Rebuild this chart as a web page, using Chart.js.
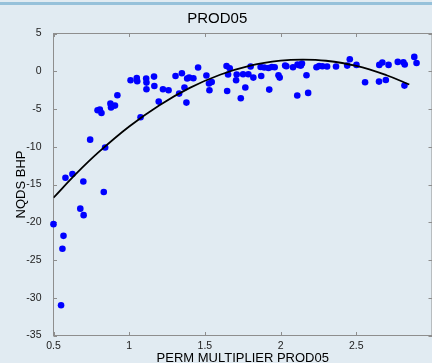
<!DOCTYPE html>
<html>
<head>
<meta charset="utf-8">
<script src="https://cdn.jsdelivr.net/npm/chart.js@4.4.1/dist/chart.umd.min.js"></script>
<style>
html, body { margin: 0; padding: 0; overflow: hidden; background: #e1ebf2; }
canvas { display: block; }
</style>
</head>
<body>
<canvas id="c" width="436" height="372"></canvas>
<script>
// scatter: perm multiplier vs NQDS BHP
const permX = [
    0.50, 0.55, 0.559, 0.566, 0.579, 0.625, 0.677, 0.697, 0.699, 0.742,
    0.832, 0.841, 0.791, 0.806, 0.817, 0.876, 0.880, 0.906, 0.922, 1.009,
    1.050, 1.053, 1.112, 1.114, 1.114, 1.075, 1.164, 1.166, 1.195, 1.223,
    1.260, 1.306, 1.330, 1.348, 1.365, 1.378, 1.383, 1.396, 1.424, 1.455,
    1.510, 1.530, 1.527, 1.545, 1.643, 1.664, 1.653, 1.647, 1.710, 1.706,
    1.737, 1.752, 1.767, 1.787, 1.802, 1.820, 1.868, 1.892, 1.920, 1.942,
    1.961, 1.872, 1.925, 1.986, 1.994, 2.030, 2.038, 2.082, 2.112, 2.123,
    2.141, 2.134, 2.110, 2.171, 2.182, 2.237, 2.254, 2.276, 2.307, 2.366,
    2.440, 2.457, 2.501, 2.558, 2.652, 2.672, 2.713, 2.650, 2.695, 2.774,
    2.811, 2.820, 2.818, 2.883, 2.898
];
const bhpY = [
    -20.25, -31.0, -23.5, -21.8, -14.1, -13.6, -18.2, -14.6, -19.06, -9.06,
    -16.0, -10.1, -5.17, -5.08, -5.53, -4.29, -4.81, -4.55, -3.18, -1.19,
    -0.89, -1.33, -0.97, -1.50, -2.39, -6.1, -0.71, -1.95, -4.02, -2.39,
    -2.52, -0.62, -2.96, -0.27, -2.16, -4.15, -0.97, -0.84, -0.93, 0.49,
    -0.57, -2.52, -1.63, -1.42, 0.70, 0.40, -0.44, -2.61, -0.44, -1.19,
    -3.58, -0.40, -2.16, -0.40, 0.62, -0.84, 0.57, 0.49, 0.44, 0.57,
    0.53, -0.62, -2.43, -0.53, -0.84, 0.75, 0.66, 0.53, 0.89, 0.80,
    1.02, 0.75, -3.22, -0.53, -2.87, 0.53, 0.70, 0.66, 0.62, 0.62,
    0.75, 1.59, 0.84, -1.46, 0.84, 1.15, 0.84, -1.37, -1.15, 1.24,
    1.19, 0.89, -1.90, 1.90, 1.10
];

// fitted curve
const fitX = [0.5, 0.65, 0.8, 1.0, 1.2, 1.4, 1.6, 1.8, 2.0, 2.15, 2.3, 2.5, 2.7, 2.85];
const fitY = [-16.75, -13.56, -10.68, -7.31, -4.49, -2.20, -0.46, 0.75, 1.41, 1.55, 1.39, 0.70, -0.53, -1.75];

const xTicks = [0.5, 1, 1.5, 2, 2.5, 3];
const yTicks = [-35, -30, -25, -20, -15, -10, -5, 0, 5];

const FONT = "'Liberation Sans', Arial, Helvetica, sans-serif";
const AXIS_COLOR = '#8e8e8e';

const points = permX.map((x, i) => ({ x: x, y: bhpY[i] }));
const fit = fitX.map((x, i) => ({ x: x, y: fitY[i] }));

// background, top stripe, axes box and inward tick marks
const frame = {
    id: 'frame',
    beforeDraw(chart) {
        const ctx = chart.ctx;
        ctx.save();
        ctx.fillStyle = '#e1ebf2';
        ctx.fillRect(0, 0, chart.width, chart.height);
        ctx.fillStyle = '#96c1da';
        ctx.fillRect(0, 2, chart.width, 3);
        ctx.restore();
    },
    beforeDatasetsDraw(chart) {
        const ctx = chart.ctx;
        const a = chart.chartArea;
        const xs = chart.scales.x, ys = chart.scales.y;
        const len = 3.5;
        ctx.save();
        ctx.strokeStyle = AXIS_COLOR;
        ctx.lineWidth = 1;
        ctx.strokeRect(a.left, a.top, a.right - a.left, a.bottom - a.top);
        ctx.beginPath();
        xTicks.forEach(v => {
            const px = Math.round(xs.getPixelForValue(v)) + 0.5;
            ctx.moveTo(px, a.bottom); ctx.lineTo(px, a.bottom - len);
            ctx.moveTo(px, a.top); ctx.lineTo(px, a.top + len);
        });
        yTicks.forEach(v => {
            const py = Math.round(ys.getPixelForValue(v)) + 0.5;
            ctx.moveTo(a.left, py); ctx.lineTo(a.left + len, py);
            ctx.moveTo(a.right, py); ctx.lineTo(a.right - len, py);
        });
        ctx.stroke();
        ctx.restore();
    }
};

new Chart(document.getElementById('c').getContext('2d'), {
    type: 'scatter',
    data: {
        datasets: [{
            label: 'fit',
            data: fit,
            showLine: true,
            borderColor: '#000000',
            borderWidth: 1.8,
            pointRadius: 0,
            tension: 0.4,
            fill: false,
            order: 0
        }, {
            label: 'NQDS BHP',
            data: points,
            backgroundColor: '#0000ff',
            borderWidth: 0,
            pointRadius: 3.3,
            clip: false,
            order: 1
        }]
    },
    options: {
        responsive: false,
        animation: false,
        devicePixelRatio: 1,
        layout: { padding: { left: 0, right: 1.5, top: 0, bottom: 0 } },
        plugins: {
            legend: { display: false },
            tooltip: { enabled: false },
            title: {
                display: true,
                text: 'PROD05',
                color: '#000',
                font: { family: FONT, size: 15, weight: 'normal' },
                padding: { top: 9.7, bottom: 5.8 }
            }
        },
        scales: {
            x: {
                type: 'linear',
                min: 0.5,
                max: 3,
                afterBuildTicks: s => { s.ticks = xTicks.map(v => ({ value: v })); },
                afterFit: s => { s.height = 36.5; },
                grid: { display: false, drawTicks: false },
                border: { display: false },
                ticks: {
                    color: '#222',
                    font: { family: FONT, size: 10.5 },
                    padding: 4,
                    maxRotation: 0,
                    callback: v => (v === 3 ? '' : String(v))
                },
                title: {
                    display: true,
                    text: 'PERM MULTIPLIER PROD05',
                    color: '#000',
                    font: { family: FONT, size: 13 },
                    padding: { top: 0, bottom: 6.2 }
                }
            },
            y: {
                type: 'linear',
                min: -35,
                max: 5,
                afterBuildTicks: s => { s.ticks = yTicks.map(v => ({ value: v })); },
                afterFit: s => { s.width = 53.5; },
                grid: { display: false, drawTicks: false },
                border: { display: false },
                ticks: {
                    color: '#222',
                    font: { family: FONT, size: 10.5 },
                    padding: 12,
                    callback: v => String(v)
                },
                title: {
                    display: true,
                    text: 'NQDS BHP',
                    color: '#000',
                    font: { family: FONT, size: 13 },
                    padding: { top: 14, bottom: 0 }
                }
            }
        }
    },
    plugins: [frame]
});
</script>
</body>
</html>
